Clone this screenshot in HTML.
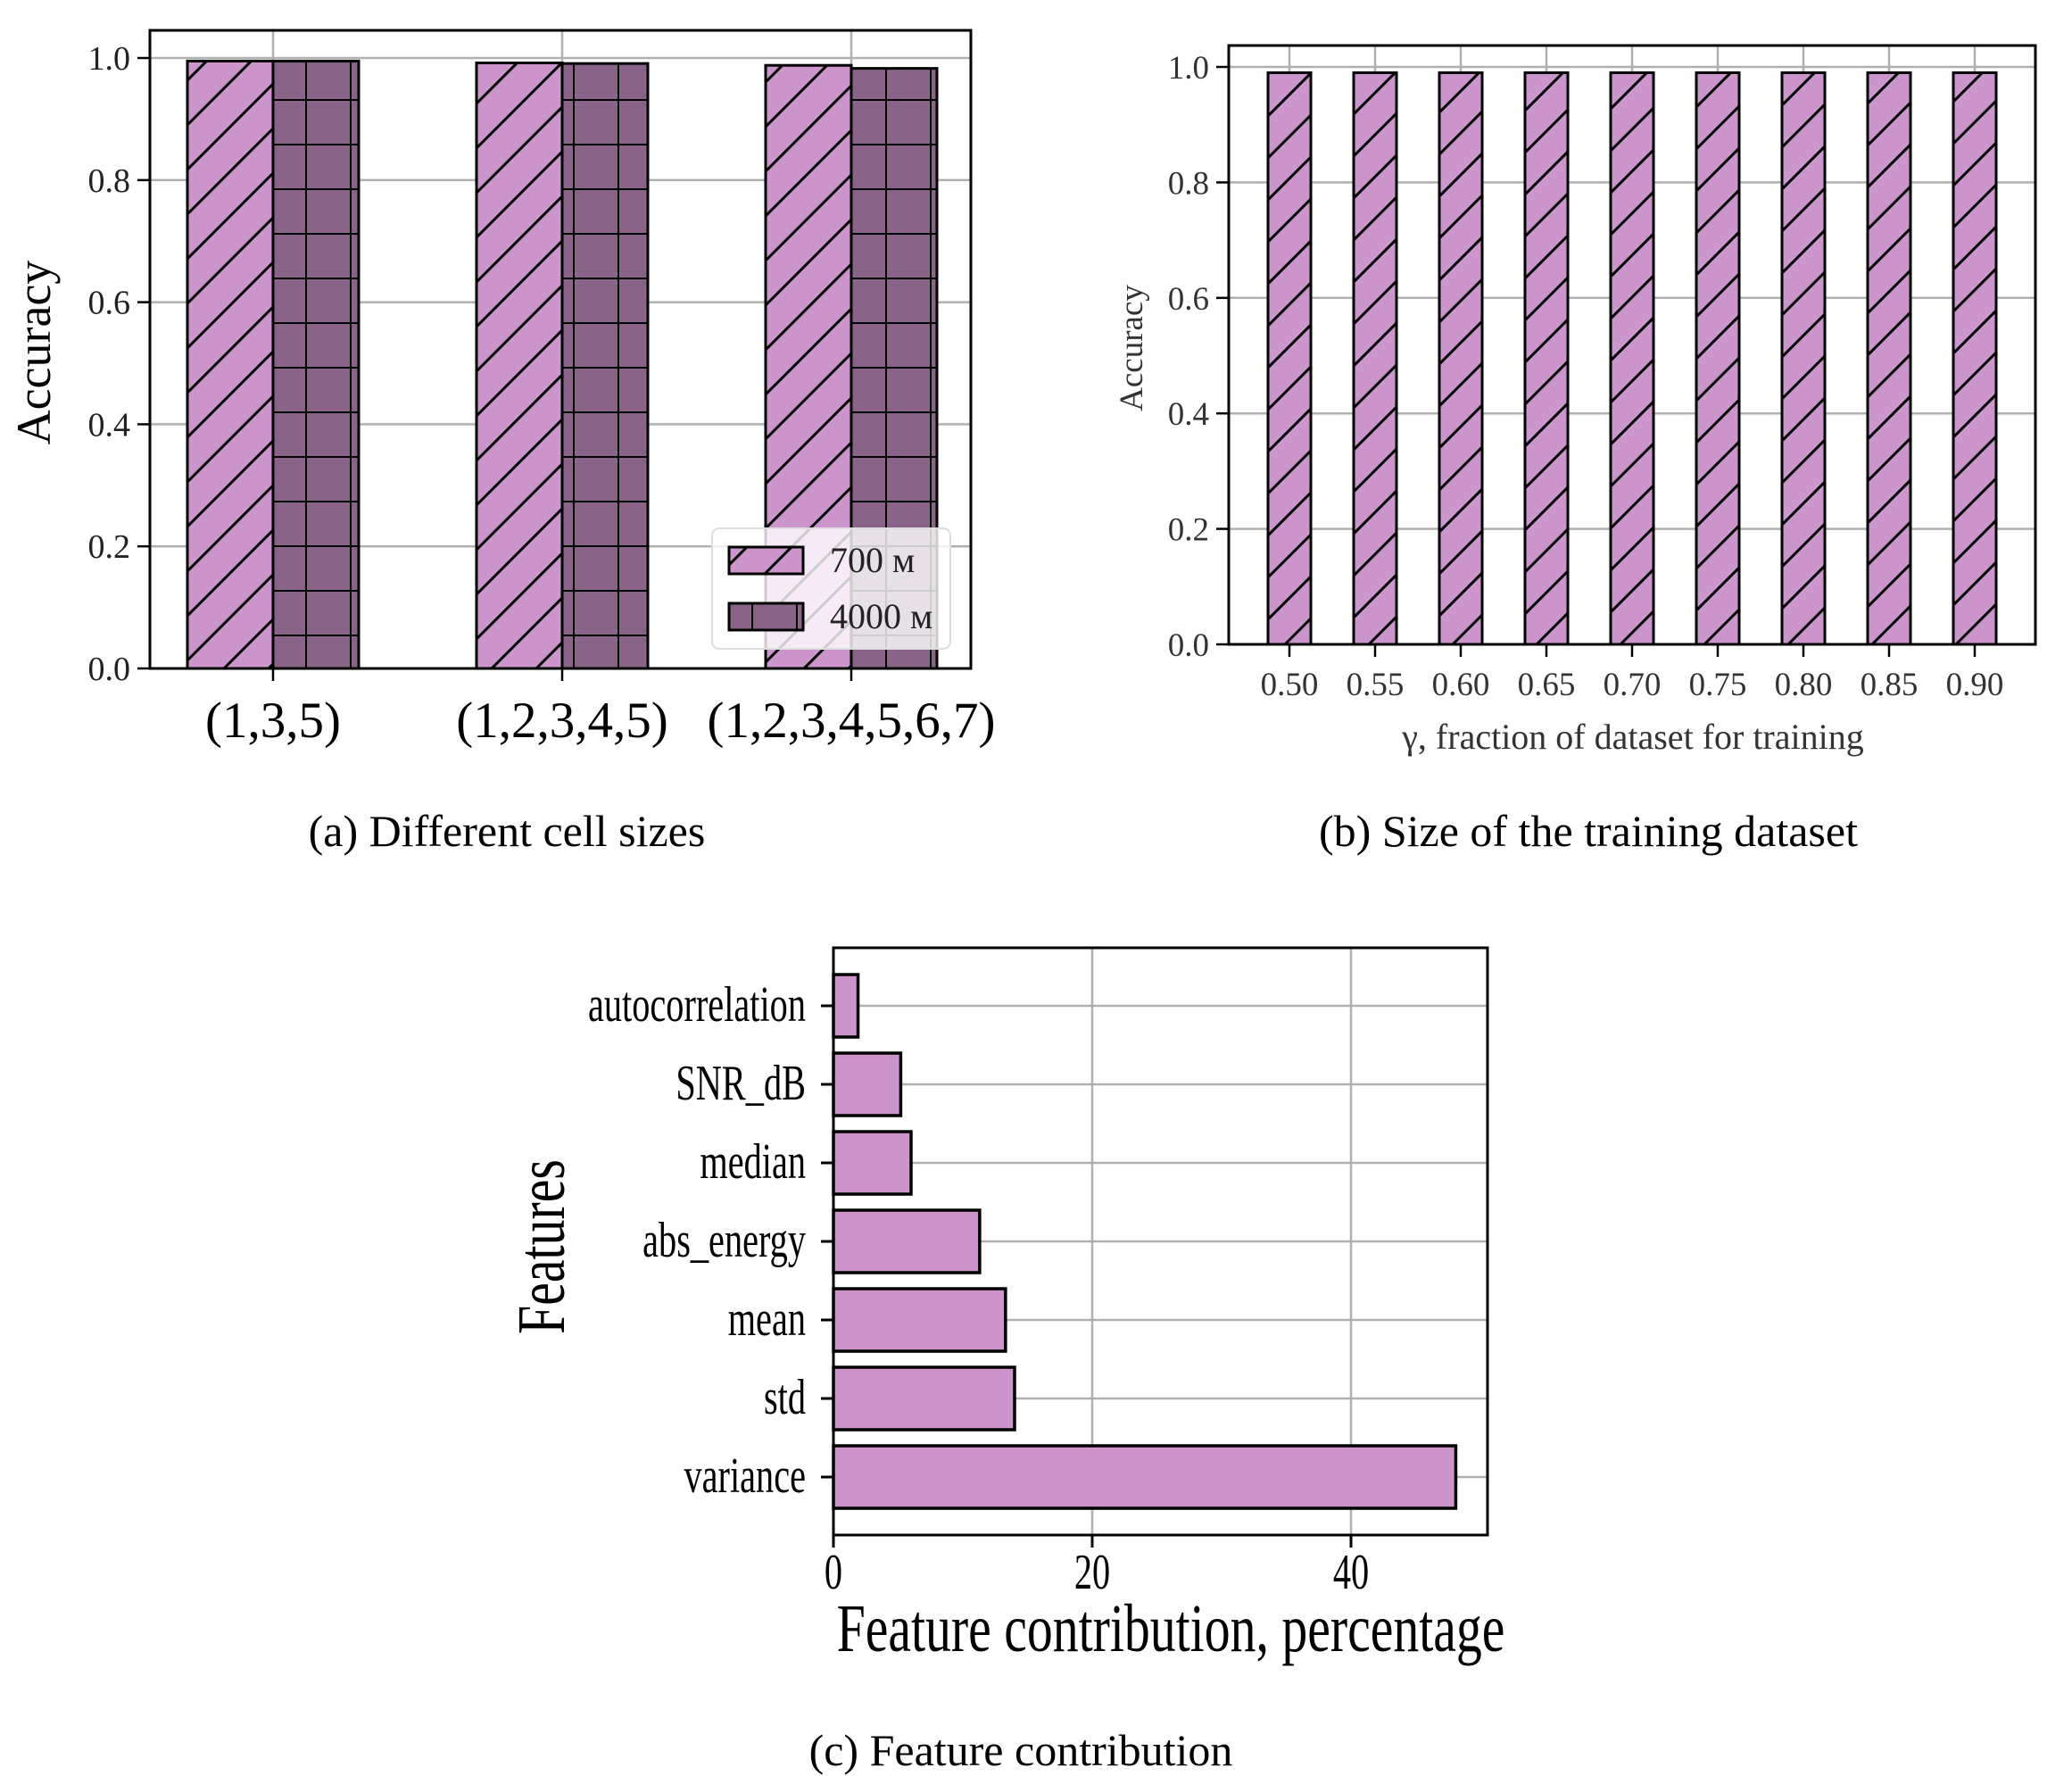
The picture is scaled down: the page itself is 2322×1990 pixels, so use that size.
<!DOCTYPE html>
<html><head><meta charset="utf-8">
<style>
html,body{margin:0;padding:0;background:#fff;}
svg{display:block;font-family:"Liberation Serif","DejaVu Serif",serif;}
</style></head>
<body>
<svg id="fig" width="2322" height="1990" viewBox="0 0 2322 1990" xmlns="http://www.w3.org/2000/svg">
<defs>
<pattern id="diagA" patternUnits="userSpaceOnUse" width="50" height="50">
<rect width="50" height="50" fill="#cc96cc"/>
<path d="M-5,55 L55,-5 M-5,5 L5,-5 M45,55 L55,45" stroke="#000" stroke-width="3"/>
</pattern>
<pattern id="gridA" patternUnits="userSpaceOnUse" width="50" height="50" x="-8" y="11">
<rect width="50" height="50" fill="#8a6488"/>
<path d="M0,0 H50 M0,0 V50" stroke="#000" stroke-width="4"/>
</pattern>
<pattern id="diagB" patternUnits="userSpaceOnUse" width="47" height="47">
<rect width="47" height="47" fill="#cc96cc"/>
<path d="M-5,52 L52,-5 M-5,5 L5,-5 M42,52 L52,42" stroke="#000" stroke-width="3"/>
</pattern>
</defs>
<g id="pa"></g>
<g id="pb"></g>
<g id="pc"></g>
<text x="568" y="948" font-size="50" text-anchor="middle">(a)  Different cell sizes</text>
<text x="1780" y="948" font-size="50" text-anchor="middle">(b)  Size of the training dataset</text>
<text x="1144" y="1978" font-size="50" text-anchor="middle">(c)  Feature contribution</text>
</svg>
<script>
// ---- Chart A data ----
const catsA = ["(1,3,5)", "(1,2,3,4,5)", "(1,2,3,4,5,6,7)"];
const acc700 = [0.995, 0.992, 0.988];
const acc4000 = [0.995, 0.991, 0.983];
const yTicksA = ["0.0", "0.2", "0.4", "0.6", "0.8", "1.0"];
const legendA = ["700 м", "4000 м"];
// ---- Chart B data ----
const catsB = ["0.50", "0.55", "0.60", "0.65", "0.70", "0.75", "0.80", "0.85", "0.90"];
const accB = [0.99, 0.99, 0.99, 0.99, 0.99, 0.99, 0.99, 0.99, 0.99];
const yTicksB = ["0.0", "0.2", "0.4", "0.6", "0.8", "1.0"];
// ---- Chart C data ----
const featC = ["variance", "std", "mean", "abs_energy", "median", "SNR_dB", "autocorrelation"];
const valC = [48.1, 14.0, 13.3, 11.3, 6.0, 5.2, 1.9];
const xTicksC = ["0", "20", "40"];

const NS = "http://www.w3.org/2000/svg";
function mk(parent, tag, attrs, txt) {
  const e = document.createElementNS(NS, tag);
  for (const k in attrs) e.setAttribute(k, attrs[k]);
  if (txt !== undefined) e.textContent = txt;
  parent.appendChild(e);
  return e;
}

// ===== Chart A =====
(function () {
  const g = document.getElementById("pa");
  const L = 168, R = 1088, T = 34, B = 749;
  const yv = v => B - v * (B - 65);
  const xc = i => 306 + i * 324;
  yTicksA.forEach(t => {
    const y = yv(parseFloat(t));
    const gl = mk(g, "line", {x1: L, x2: R, y1: y, y2: y, stroke: "#b0b0b0", "stroke-width": 2.5});
    
    
  });
  catsA.forEach((c, i) => {
    const gl = mk(g, "line", {x1: xc(i), x2: xc(i), y1: T, y2: B, stroke: "#b0b0b0", "stroke-width": 2.5});
    
    
  });
  const w = 96;
  catsA.forEach((c, i) => {
    const b1 = mk(g, "rect", {x: xc(i) - w, y: yv(acc700[i]), width: w, height: B - yv(acc700[i]), fill: "url(#diagA)", stroke: "#000", "stroke-width": 3});
    
    
    const b2 = mk(g, "rect", {x: xc(i), y: yv(acc4000[i]), width: w, height: B - yv(acc4000[i]), fill: "url(#gridA)", stroke: "#000", "stroke-width": 3});
    
    
    mk(g, "line", {x1: xc(i), x2: xc(i), y1: B, y2: B + 14, stroke: "#000", "stroke-width": 2.5});
    const t = mk(g, "text", {x: xc(i), y: B + 77, "font-size": 57, "text-anchor": "middle"}, c);
    
    
  });
  yTicksA.forEach(tk => {
    const y = yv(parseFloat(tk));
    mk(g, "line", {x1: L - 14, x2: L, y1: y, y2: y, stroke: "#000", "stroke-width": 2.5});
    const t = mk(g, "text", {x: L - 22, y: y + 13, "font-size": 38, "text-anchor": "end", fill: "#222"}, tk);
    
    
  });
  const fr = mk(g, "rect", {x: L, y: T, width: R - L, height: B - T, fill: "none", stroke: "#000", "stroke-width": 3});
  
  
  const yl = mk(g, "text", {x: 0, y: 0, "font-size": 54, "text-anchor": "middle", transform: "translate(56,395) rotate(-90)"}, "Accuracy");
  
  
  const lg = mk(g, "g", {});
  
  
  mk(lg, "rect", {x: 798, y: 592, width: 267, height: 135, rx: 8, fill: "#fff", "fill-opacity": 0.8, stroke: "#ddd", "stroke-width": 2});
  const p1 = mk(lg, "rect", {x: 817, y: 613, width: 83, height: 30, fill: "url(#diagA)", stroke: "#000", "stroke-width": 3});
  
  
  const p2 = mk(lg, "rect", {x: 817, y: 676, width: 83, height: 30, fill: "url(#gridA)", stroke: "#000", "stroke-width": 3});
  
  
  mk(lg, "text", {x: 930, y: 641, "font-size": 40, fill: "#222"}, legendA[0]);
  mk(lg, "text", {x: 930, y: 704, "font-size": 40, fill: "#222"}, legendA[1]);
})();

// ===== Chart B =====
(function () {
  const g = document.getElementById("pb");
  const L = 1377, R = 2281, T = 51, B = 722;
  const yv = v => B - v * (B - 75);
  const xc = i => 1445 + i * 96;
  yTicksB.forEach(t => {
    const y = yv(parseFloat(t));
    const gl = mk(g, "line", {x1: L, x2: R, y1: y, y2: y, stroke: "#b0b0b0", "stroke-width": 2.5});
    
    
  });
  catsB.forEach((c, i) => {
    const gl = mk(g, "line", {x1: xc(i), x2: xc(i), y1: T, y2: B, stroke: "#b0b0b0", "stroke-width": 2.5});
    
    
  });
  const w = 48;
  catsB.forEach((c, i) => {
    const b = mk(g, "rect", {x: xc(i) - w / 2, y: yv(accB[i]), width: w, height: B - yv(accB[i]), fill: "url(#diagB)", stroke: "#000", "stroke-width": 3});
    
    
    mk(g, "line", {x1: xc(i), x2: xc(i), y1: B, y2: B + 14, stroke: "#000", "stroke-width": 2.5});
    const t = mk(g, "text", {x: xc(i), y: B + 57, "font-size": 37, "text-anchor": "middle", fill: "#333"}, c);
    
    
  });
  yTicksB.forEach(tk => {
    const y = yv(parseFloat(tk));
    mk(g, "line", {x1: L - 14, x2: L, y1: y, y2: y, stroke: "#000", "stroke-width": 2.5});
    const t = mk(g, "text", {x: L - 22, y: y + 13, "font-size": 37, "text-anchor": "end", fill: "#333"}, tk);
    
    
  });
  const fr = mk(g, "rect", {x: L, y: T, width: R - L, height: B - T, fill: "none", stroke: "#000", "stroke-width": 3});
  
  
  const yl = mk(g, "text", {x: 0, y: 0, "font-size": 37, "text-anchor": "middle", fill: "#333", transform: "translate(1280,390) rotate(-90)"}, "Accuracy");
  
  
  const xl = mk(g, "text", {x: 1830, y: 839, "font-size": 40, "text-anchor": "middle", fill: "#333"}, "γ, fraction of dataset for training");
  
  
})();

// ===== Chart C =====
(function () {
  const g = document.getElementById("pc");
  const L = 934, R = 1667, T = 1062, B = 1720;
  const xv = v => L + v * 14.5;
  const yc = i => 1655 - i * 88;
  xTicksC.forEach(t => {
    const x = xv(parseFloat(t));
    const gl = mk(g, "line", {x1: x, x2: x, y1: T, y2: B, stroke: "#b0b0b0", "stroke-width": 2.5});
    
    
  });
  featC.forEach((f, i) => {
    const gl = mk(g, "line", {x1: L, x2: R, y1: yc(i), y2: yc(i), stroke: "#b0b0b0", "stroke-width": 2.5});
    
    
  });
  const h = 70;
  featC.forEach((f, i) => {
    const b = mk(g, "rect", {x: L, y: yc(i) - h / 2, width: xv(valC[i]) - L, height: h, fill: "#cc96cc", stroke: "#000", "stroke-width": 3.5});
    
    
    mk(g, "line", {x1: L - 14, x2: L, y1: yc(i), y2: yc(i), stroke: "#000", "stroke-width": 3});
    const t = mk(g, "text", {x: 0, y: 0, "font-size": 56, "text-anchor": "end", transform: "translate(903," + (yc(i) + 17) + ") scale(0.72,1)"}, f);
    
    
  });
  xTicksC.forEach(tk => {
    const x = xv(parseFloat(tk));
    mk(g, "line", {x1: x, x2: x, y1: B, y2: B + 14, stroke: "#000", "stroke-width": 3});
    const t = mk(g, "text", {x: 0, y: 0, "font-size": 56, "text-anchor": "middle", transform: "translate(" + x + ",1780) scale(0.72,1)"}, tk);
    
    
  });
  const fr = mk(g, "rect", {x: L, y: T, width: R - L, height: B - T, fill: "none", stroke: "#000", "stroke-width": 3});
  
  
  const xl = mk(g, "text", {x: 0, y: 0, "font-size": 76, "text-anchor": "middle", transform: "translate(1312,1850) scale(0.76,1)"}, "Feature contribution, percentage");
  
  
  const yl = mk(g, "text", {x: 0, y: 0, "font-size": 76, "text-anchor": "middle", transform: "translate(632,1397) rotate(-90) scale(0.76,1)"}, "Features");
  
  
})();
</script>
</body></html>
